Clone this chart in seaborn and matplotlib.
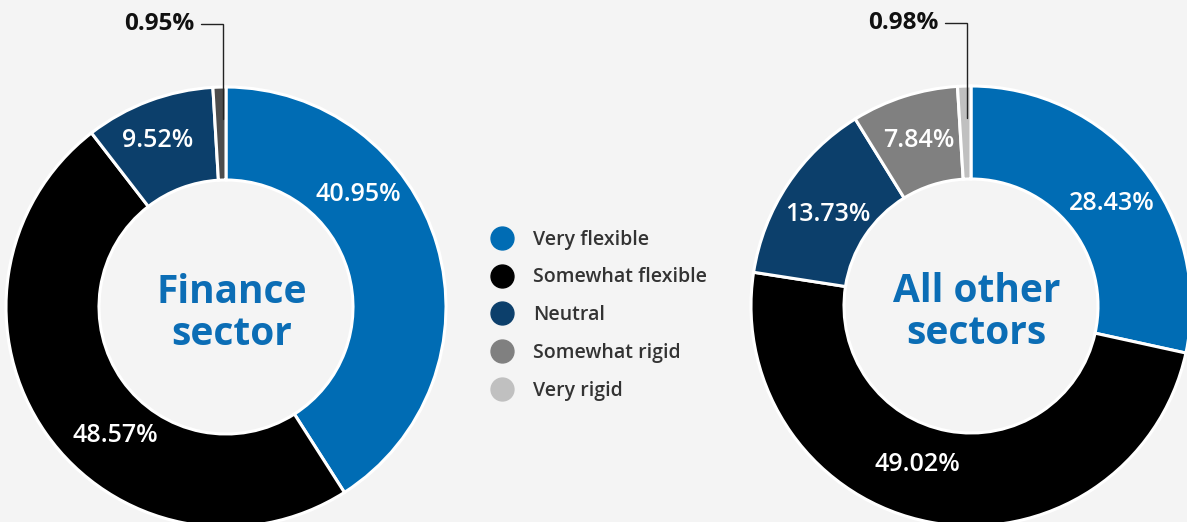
import numpy as np
import matplotlib
matplotlib.use("Agg")
import matplotlib.pyplot as plt
from matplotlib.lines import Line2D
import seaborn as sns

# Survey response shares (%)
categories = ["Very flexible", "Somewhat flexible", "Neutral", "Somewhat rigid", "Very rigid"]
finance_values = [40.95, 48.57, 9.52, 0.95]
other_values = [28.43, 49.02, 13.73, 7.84, 0.98]
finance_title = "Finance\nsector"
other_title = "All other\nsectors"

palette = ["#006cb4", "#000000", "#0c3f6b", "#808080", "#c0c0c0"]
finance_colors = ["#006cb4", "#000000", "#0c3f6b", "#4d4d4d"]
other_colors = palette

BG = "#f4f4f4"
BLUE = "#0b6db5"

sns.set_theme(style="white")
plt.rcParams["font.family"] = ["Open Sans", "DejaVu Sans"]

W, H = 1187, 522
fig = plt.figure(figsize=(W / 100, H / 100), dpi=100, facecolor=BG)

R_PX = 220
HOLE = 127 / 220


def donut(cx, cy, values, colors, title, label_shift, label_r):
    ax = fig.add_axes([(cx - R_PX) / W, (H - cy - R_PX) / H, 2 * R_PX / W, 2 * R_PX / H])
    ax.set_facecolor(BG)
    wedges, _ = ax.pie(values, colors=colors, startangle=90, counterclock=False,
                       radius=1.0,
                       wedgeprops=dict(width=1 - HOLE, edgecolor="white", linewidth=2.2))
    for w in wedges:
        w.set_clip_on(False)
    ax.set_xlim(-1, 1)
    ax.set_ylim(-1, 1)
    ax.set_aspect("auto")
    ax.axis("off")

    # slice mid angles, measured counter-clockwise from +x
    cum = np.cumsum([0] + list(values))
    total = cum[-1]
    mids = 90 - (cum[:-1] + cum[1:]) / 2 / total * 360

    for i, v in enumerate(values):
        if v < 2:
            # call-out for a very thin slice
            a = np.deg2rad(mids[i])
            x0 = np.cos(a) * 0.855 + 0.01
            y0 = np.sin(a) * 0.855
            top = 1.286
            xl = x0 - 0.10
            ax.plot([x0, x0, xl], [y0, top, top], color="#222222", lw=1.0,
                    clip_on=False, solid_joinstyle="miter")
            ax.text(xl - 0.03, top + 0.0, f"{v:.2f}%", ha="right", va="center",
                    fontsize=17.5, fontweight="bold", color="#111111", clip_on=False)
        else:
            a = np.deg2rad(mids[i] + label_shift[i])
            ax.text(np.cos(a) * label_r[i], np.sin(a) * label_r[i], f"{v:.2f}%",
                    ha="center", va="center", fontsize=18, fontweight="semibold",
                    color="white")

    ax.text(0.025, -0.03, title, ha="center", va="center", fontsize=28,
            fontweight="bold", color=BLUE, linespacing=1.1)
    return ax


donut(226, 307, finance_values, finance_colors, finance_title,
      label_shift=[24, 14, 1.7, 0], label_r=[0.79, 0.77, 0.82, 0])
donut(971, 306, other_values, other_colors, other_title,
      label_shift=[-2.7, -8, 1, 0, 0], label_r=[0.79, 0.76, 0.77, 0.79, 0])

handles = [Line2D([0], [0], marker="o", linestyle="none", markersize=16.5,
                  markerfacecolor=c, markeredgecolor=c) for c in palette]
fig.legend(handles, categories, loc="upper left",
           bbox_to_anchor=(492 / W, (H - 229.5) / H), frameon=False,
           handlelength=1.0, handletextpad=1.1, labelspacing=0.92,
           prop=dict(size=14, weight="semibold"), labelcolor="#333333",
           borderaxespad=0, borderpad=0)

fig.savefig("out.png", dpi=100, facecolor=BG)
